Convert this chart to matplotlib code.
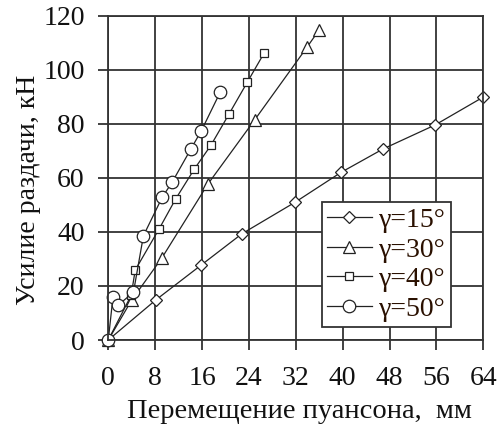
import matplotlib
matplotlib.use("Agg")
import matplotlib.pyplot as plt

plt.rcParams['font.family'] = ['Liberation Serif', 'DejaVu Serif']

# displacement (mm) and force (kN) for each cone angle
x15 = [0, 8.1, 15.9, 22.8, 31.9, 39.7, 46.9, 55.8, 64.0]
y15 = [0, 14.8, 27.8, 39.3, 51.0, 62.0, 70.7, 79.6, 89.9]

x30 = [0, 4.0, 9.1, 17.0, 25.0, 33.9, 36.0]
y30 = [0, 14.8, 30.2, 57.7, 81.5, 108.3, 114.8]

x40 = [0, 3.9, 4.6, 8.7, 11.5, 14.7, 17.5, 20.6, 23.7, 26.6]
y40 = [0, 16.5, 25.9, 41.2, 52.2, 63.3, 72.0, 83.6, 95.3, 106.2]

x50 = [0, 0.8, 1.7, 4.3, 6.0, 9.2, 10.9, 14.1, 15.9, 19.1]
y50 = [0, 15.9, 12.9, 17.7, 38.6, 52.8, 58.4, 70.7, 77.5, 91.7]

labels = ["γ=15°", "γ=30°", "γ=40°", "γ=50°"]
xticks = [0, 8, 16, 24, 32, 40, 48, 56, 64]
yticks = [0, 20, 40, 60, 80, 100, 120]

fig = plt.figure(figsize=(4.99, 4.25), dpi=100)
ax = fig.add_axes([0.217, 0.2, 0.7515, 0.763])

lc = "#222222"
kw = dict(color=lc, lw=0.9, mfc="white", mec=lc, mew=0.9, clip_on=False)
ax.plot(x15, y15, marker="D", ms=6.5, label=labels[0], **kw)
ax.plot(x30, y30, marker="^", ms=8.5, label=labels[1], **kw)
ax.plot(x40, y40, marker="s", ms=5.5, label=labels[2], **kw)
ax.plot(x50, y50, marker="o", ms=9, label=labels[3], **kw)

ax.set_xlim(0, 64)
ax.set_ylim(0, 120)
ax.set_xticks(xticks)
ax.set_yticks(yticks)
ax.grid(True, color="#333333", lw=1.3)
ax.set_axisbelow(True)
for s in ax.spines.values():
    s.set_color("#333333")
    s.set_linewidth(1.3)
ax.tick_params(direction="out", length=7, width=1.3, color="#333333",
               labelsize=20, labelcolor="#111111")
ax.tick_params(axis="x", pad=12)
ax.tick_params(axis="y", pad=10)

ax.set_xlabel("Перемещение пуансона,  мм", fontsize=20.5, color="#111111")
ax.xaxis.set_label_coords(0.51, -0.183)
ax.set_ylabel("Усилие раздачи, кН", fontsize=20, color="#111111", va="center")
ax.yaxis.set_label_coords(-0.214, 0.4625)

leg = ax.legend(loc="lower left", bbox_to_anchor=(0.569, 0.039), fontsize=20,
                fancybox=False, framealpha=1, edgecolor="#333333",
                handlelength=1.6, handletextpad=0.25, labelspacing=0.15,
                borderpad=0.2, borderaxespad=0)
leg.get_frame().set_linewidth(1.3)
for t in leg.get_texts():
    t.set_color("#2a1000")

fig.savefig("out.png", dpi=100)
